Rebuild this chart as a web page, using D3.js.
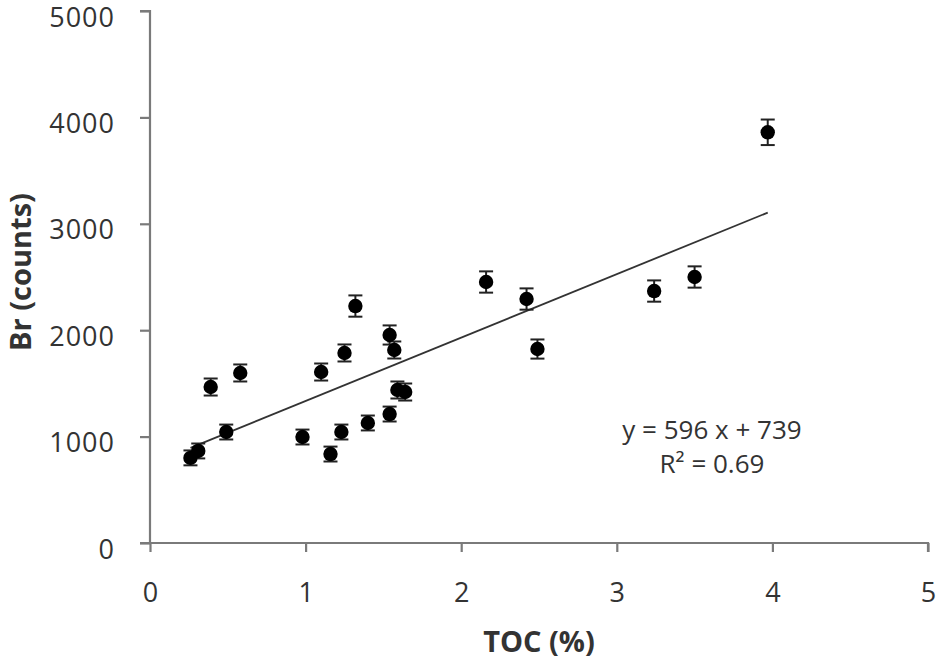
<!DOCTYPE html>
<html>
<head>
<meta charset="utf-8">
<script src="https://cdn.jsdelivr.net/npm/d3@7"></script>
<style>
  html, body { margin: 0; padding: 0; background: #fff; }
  svg { display: block; }
  text { font-family: "Open Sans", "Noto Sans", sans-serif; fill: #333; }
</style>
</head>
<body>
<svg id="chart" width="936" height="664"></svg>
<script>
// ---- data ----
const toc    = [0.26, 0.31, 0.39, 0.49, 0.58, 0.98, 1.10, 1.16, 1.23, 1.25, 1.32, 1.40, 1.54, 1.54, 1.57, 1.59, 1.64, 2.16, 2.42, 2.49, 3.24, 3.50, 3.97];
const br     = [800, 865, 1466, 1043, 1598, 996, 1607, 836, 1043, 1786, 2227, 1128, 1212, 1955, 1814, 1438, 1419, 2453, 2293, 1823, 2368, 2500, 3860];
const brErr  = [70, 70, 80, 70, 80, 70, 80, 70, 70, 80, 100, 70, 70, 90, 80, 80, 80, 100, 100, 90, 100, 100, 120];
const xTicks = [0, 1, 2, 3, 4, 5];
const yTicks = [0, 1000, 2000, 3000, 4000, 5000];
const slope = 596, intercept = 739;
const eqLabel = "y = 596 x + 739";
const r2Label = "R² = 0.69";
const xTitle = "TOC (%)";
const yTitle = "Br (counts)";

// ---- scales ----
const svg = d3.select("#chart");
const x = d3.scaleLinear().domain([0, 5]).range([150, 928]);
const y = d3.scaleLinear().domain([0, 5000]).range([543, 11]);

const axisColor = "#7a7a7a";

// y axis
const yAxis = svg.append("g")
  .attr("transform", `translate(${x(0)},0)`)
  .call(d3.axisLeft(y).tickValues(yTicks).tickSize(10).tickPadding(25).tickFormat(d3.format("d")));
yAxis.select(".domain").attr("stroke", axisColor).attr("stroke-width", 2.2).attr("d", `M-10,${y(5000)}H0V${y(0)}`);
yAxis.selectAll(".tick line").attr("stroke", axisColor).attr("stroke-width", 2.2);
yAxis.selectAll(".tick text").attr("font-size", 27).attr("fill", "#333").attr("font-family", "Open Sans").attr("letter-spacing", 1).attr("dy", "0.56em");

// x axis
const xAxis = svg.append("g")
  .attr("transform", `translate(0,${y(0)})`)
  .call(d3.axisBottom(x).tickValues(xTicks).tickSize(9).tickPadding(31).tickFormat(d3.format("d")));
xAxis.select(".domain").attr("stroke", axisColor).attr("stroke-width", 2.2).attr("d", `M${x(0) - 10},0H${x(5)}V9`);
xAxis.selectAll(".tick line").attr("stroke", axisColor).attr("stroke-width", 2.2);
xAxis.selectAll(".tick text").attr("font-size", 27).attr("fill", "#333").attr("font-family", "Open Sans");

// trend line
const xMin = d3.min(toc), xMax = d3.max(toc);
svg.append("line")
  .attr("x1", x(xMin)).attr("y1", y(slope * xMin + intercept))
  .attr("x2", x(xMax)).attr("y2", y(slope * xMax + intercept))
  .attr("stroke", "#333").attr("stroke-width", 1.8);

// error bars
const pts = toc.map((t, i) => ({ t, b: br[i], e: brErr[i] }));
const eb = svg.append("g").attr("stroke", "#222").attr("stroke-width", 2);
pts.forEach(p => {
  const cx = x(p.t);
  eb.append("line").attr("x1", cx).attr("x2", cx).attr("y1", y(p.b - p.e)).attr("y2", y(p.b + p.e));
  eb.append("line").attr("x1", cx - 7).attr("x2", cx + 7).attr("y1", y(p.b + p.e)).attr("y2", y(p.b + p.e));
  eb.append("line").attr("x1", cx - 7).attr("x2", cx + 7).attr("y1", y(p.b - p.e)).attr("y2", y(p.b - p.e));
});

// points
svg.append("g").selectAll("circle").data(pts).join("circle")
  .attr("cx", d => x(d.t)).attr("cy", d => y(d.b)).attr("r", 7.2).attr("fill", "#000");

// equation
svg.append("text").attr("x", 712).attr("y", 439).attr("text-anchor", "middle").attr("font-size", 26).text(eqLabel);
svg.append("text").attr("x", 712).attr("y", 473).attr("text-anchor", "middle").attr("font-size", 26).text(r2Label);

// axis titles
svg.append("text").attr("x", 539).attr("y", 652).attr("text-anchor", "middle")
  .attr("font-size", 29).attr("font-weight", "bold").text(xTitle);
svg.append("text").attr("transform", "translate(31,272) rotate(-90)").attr("text-anchor", "middle")
  .attr("font-size", 29).attr("font-weight", "bold").text(yTitle);
</script>
</body>
</html>
